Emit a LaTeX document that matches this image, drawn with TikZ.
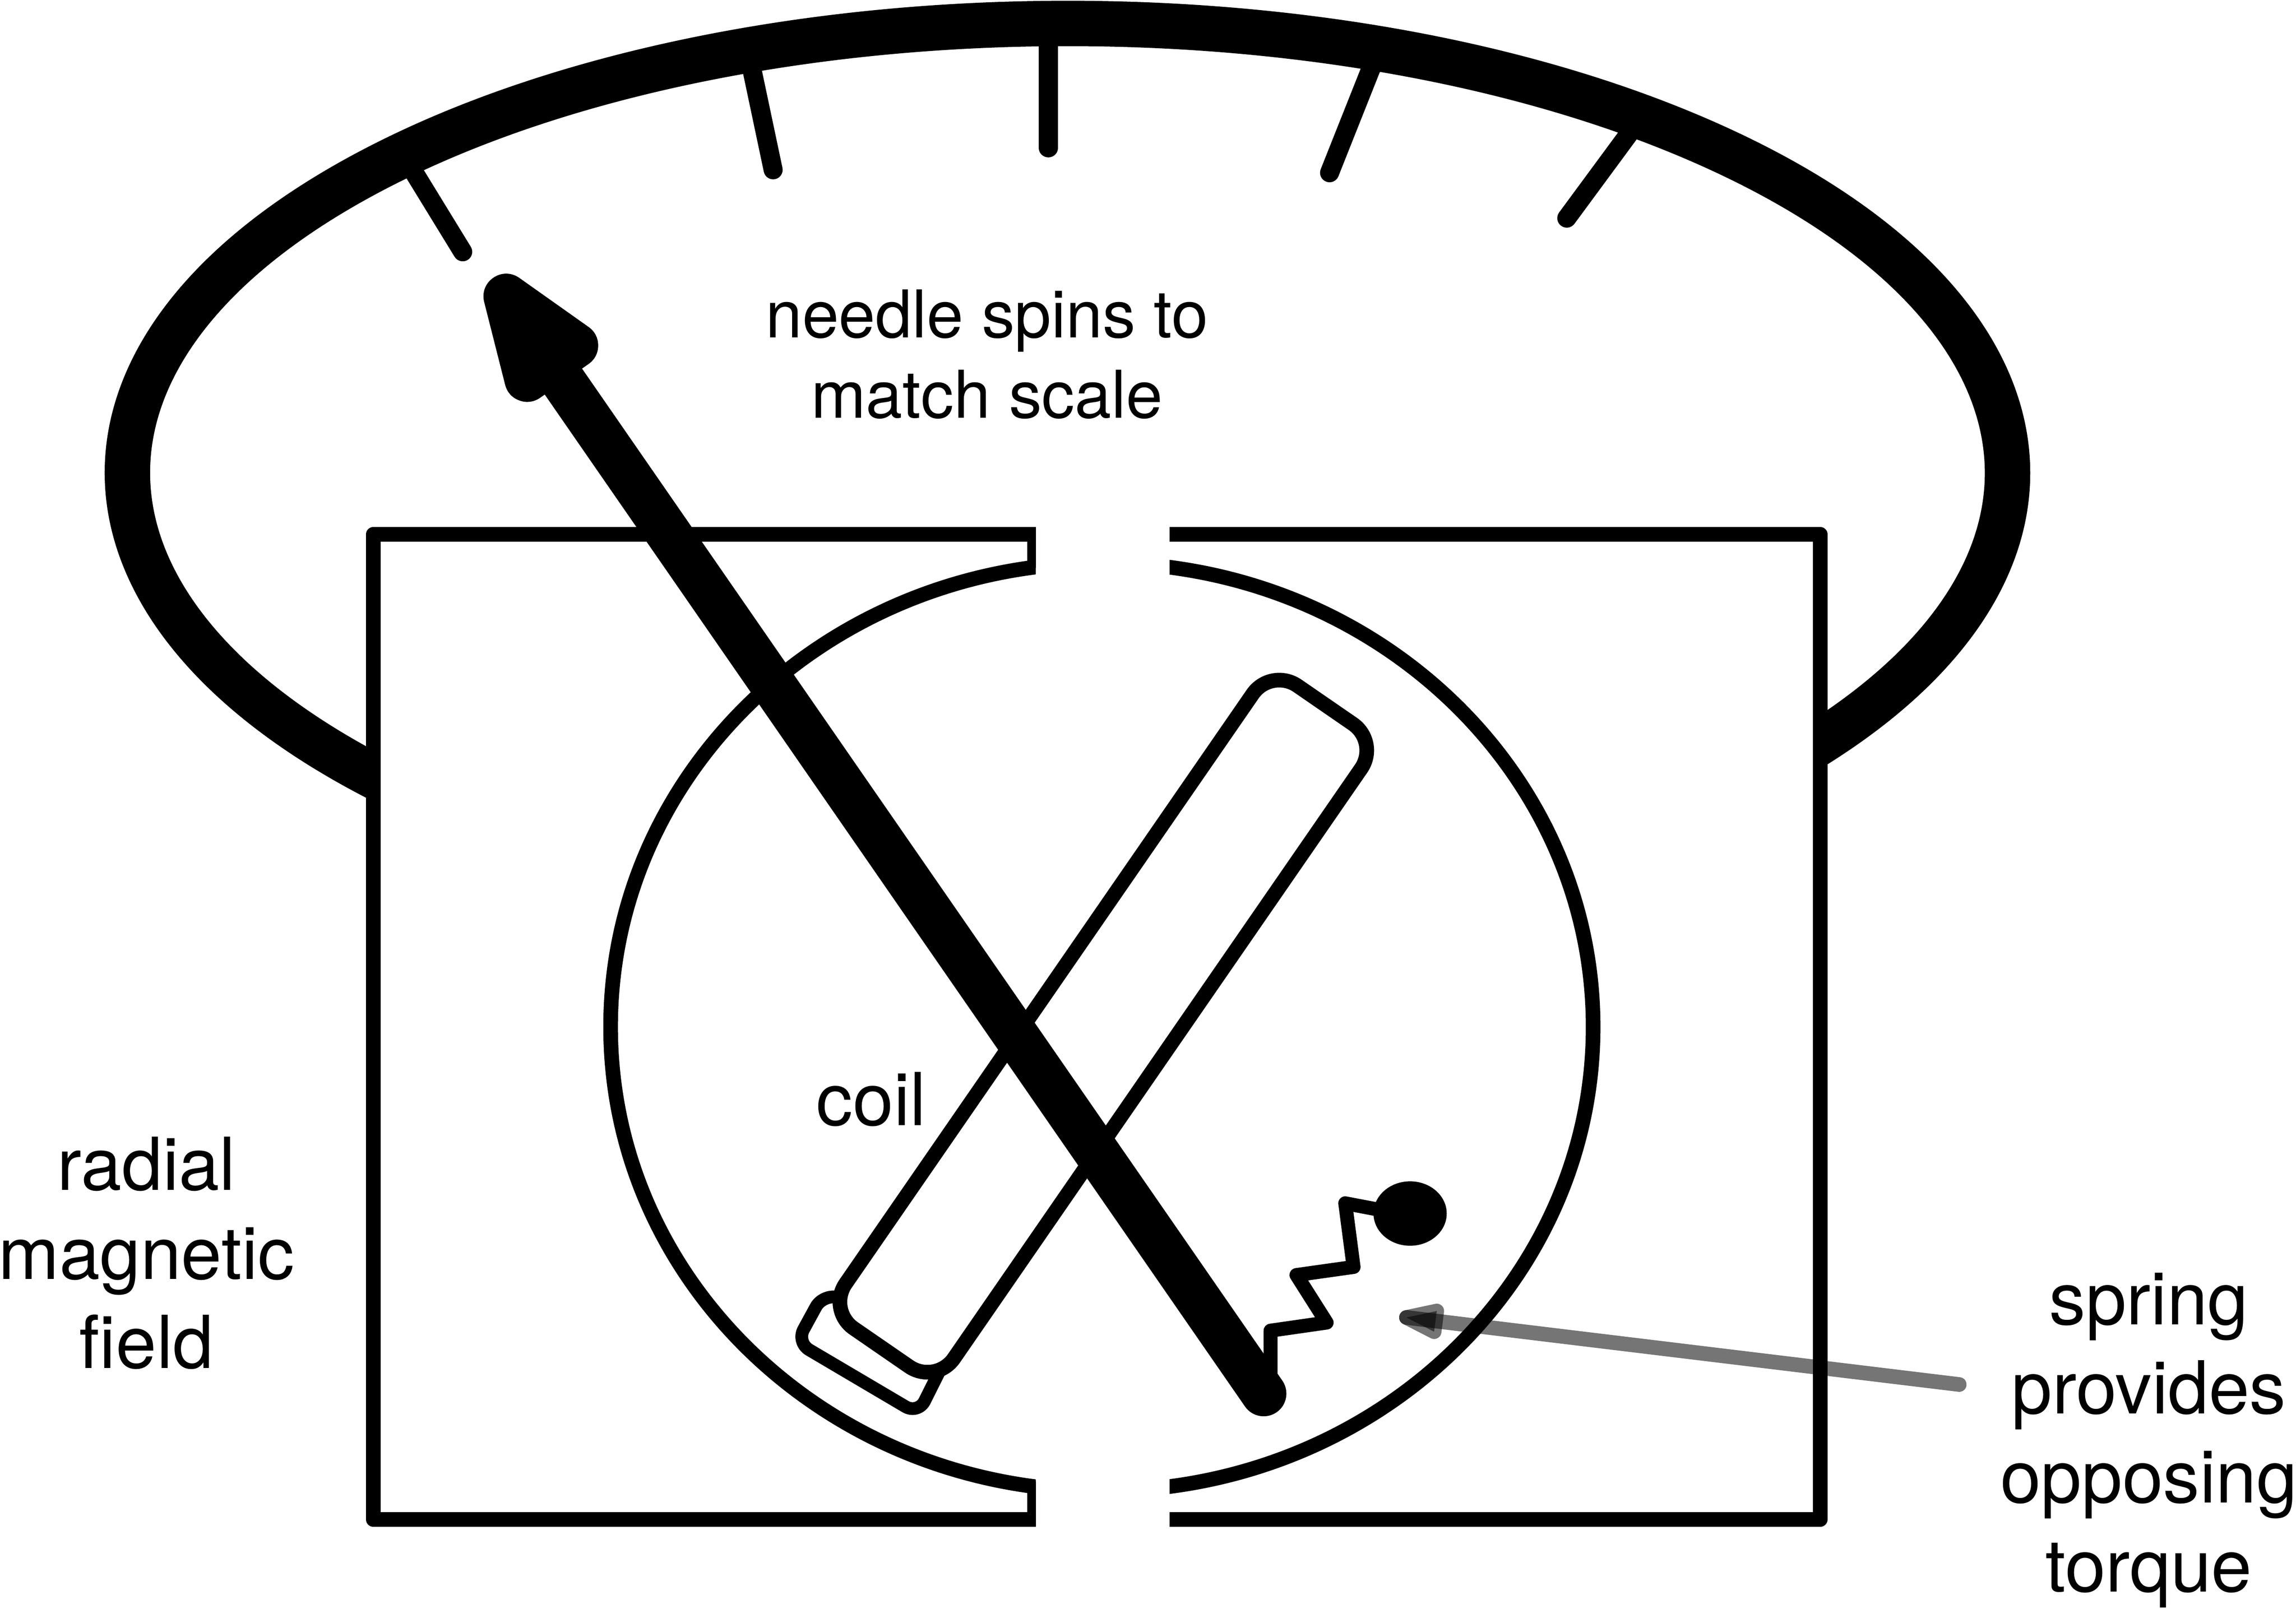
\documentclass[tikz,border=0pt]{standalone}
\usepackage{fontspec}
\setmainfont{TeX Gyre Heros}
\begin{document}
\begin{tikzpicture}[x=0.01cm,y=-0.01cm,
    label/.style={align=center,font=\fontsize{12.8}{15.6}\selectfont,inner sep=0pt},
    biglabel/.style={align=center,font=\fontsize{14.2}{17.3}\selectfont,inner sep=0pt},
    scalearc/.style={line width=0.31cm},
    scaletick/.style={line width=0.13cm,line cap=round},
    magnet/.style={line width=0.1cm,line join=round},
    needle/.style={line width=0.31cm,line cap=round,line join=round},
    coilline/.style={line width=0.1cm,line join=round,rounded corners=0.22cm,fill=white},
    springline/.style={line width=0.095cm,line join=round,line cap=round},
    pointer/.style={line width=0.1cm,line cap=round,line join=round,opacity=0.54}]
    \useasboundingbox (0,0) rectangle (1568,1099);
    % Scala
    \begin{scope}
        \clip (0,0) rectangle (255,1099) (1243,0) rectangle (1568,1099) (255,0) rectangle (1243,365);
        \draw[scalearc] (729,323) ++(228:642 and -307) arc[start angle=228,end angle=-42,x radius=642,y radius=-307];
    \end{scope}
    \foreach \xa/\ya/\xb/\yb in {278/110/316/172, 513/45/528/116, 716/30/716/101, 937/45/908/118, 1112/92/1070/149}
        \draw[scaletick] (\xa,\ya) -- (\xb,\yb);
    % Magnete
    \draw[magnet] (707.4,365) -- (255,365) -- (255,1038) -- (707.4,1038);
    \draw[magnet] (798.8,1038) -- (1243,1038) -- (1243,365) -- (798.8,365);
    \draw[line width=0.06cm] (704.4,363) -- (704.4,388);
    \draw[line width=0.06cm] (704.4,1012) -- (704.4,1040);
    \begin{scope}
        \clip (0,0) rectangle (707.4,1099) (798.8,0) rectangle (1568,1099);
        \draw[magnet] (752.5,701.5) ellipse[x radius=335.5,y radius=317];
    \end{scope}
    % Bobina
    \draw[line width=0.087cm,line join=round,rounded corners=0.1cm] (575,887) -- (562,884) -- (544,917) -- (627,966) -- (641,938);
    \draw[coilline] (868,456) -- (942,507) -- (639,946) -- (565,895) -- cycle;
    % Molla
    \draw[springline] (867.7,940) -- (867.7,909) -- (906,903.5) -- (885.4,871) -- (924.4,865.5) -- (918.7,822) -- (945,827);
    \fill (963,829) ellipse[x radius=25,y radius=22];
    % Ago
    \draw[needle] (863,952) -- (376,248);
    \draw[needle,fill] (345.7,202.5) -- (393,236) -- (360,259) -- cycle;
    % Freccia grigia
    \draw[pointer] (1338,945.8) -- (960.5,900);
    \draw[pointer] (960.5,900) -- (981.2,895.6) -- (979.4,909.7) -- cycle;
    \fill[opacity=0.54] (960.5,900) -- (981.2,895.6) -- (979.4,909.7) -- cycle;
    % Testi
    \node[label] (needlelabel) at (674,242) {needle spins to\\match scale};
    \node[biglabel] (coillabel) at (595,751) {coil};
    \node[biglabel] (fieldlabel) at (100,856) {radial\\magnetic\\field};
    \node[biglabel] (springlabel) at (1467.5,984) {spring\\provides\\opposing\\torque};
\end{tikzpicture}
\end{document}
